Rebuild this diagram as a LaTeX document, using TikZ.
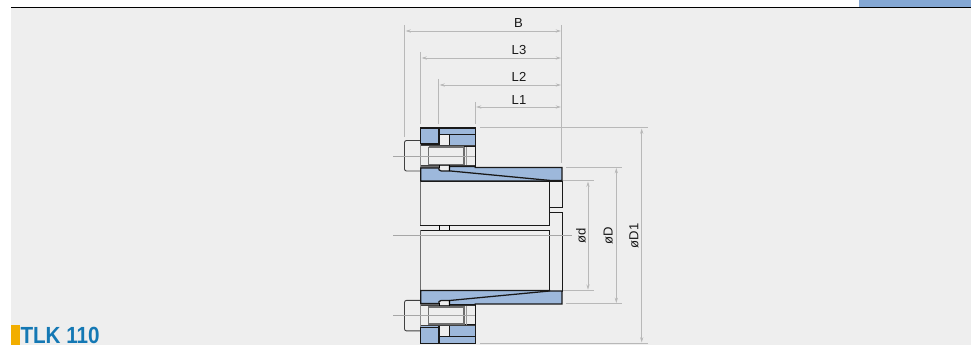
\documentclass[tikz,border=0pt]{standalone}
\usepackage{fontspec}
\setmainfont{Liberation Sans}
\usetikzlibrary{arrows.meta}
\definecolor{pagebg}{HTML}{EEEEEE}
\definecolor{partblue}{HTML}{9DB8DB}
\definecolor{barblue}{HTML}{84A7D3}
\definecolor{dimgray}{HTML}{B8B8B8}
\definecolor{shaftgray}{HTML}{6E6E6E}
\definecolor{titleblue}{HTML}{1478B4}
\definecolor{titleorange}{HTML}{F2AE00}
\tikzset{
  part/.style={draw=black!90,line width=0.95pt,line join=miter},
  bluepart/.style={part,fill=partblue},
  sleeve/.style={draw=black!90,line width=0.7pt},
  thin part/.style={draw=black,line width=0.65pt},
  shaft/.style={draw=shaftgray,line width=1.1pt},
  shaft wall/.style={draw=shaftgray,line width=0.9pt},
  extline/.style={draw=dimgray,line width=0.75pt},
  centre/.style={draw=dimgray!90!black,line width=0.7pt},
  dimline/.style={draw=dimgray,line width=0.7pt,{Stealth[length=4pt,width=2.4pt]}-{Stealth[length=4pt,width=2.4pt]}},
  dimlabel/.style={font=\fontsize{9.8pt}{11pt}\selectfont,text=black!90,inner sep=0pt,anchor=center},
}
% half of the section, in pixel coordinates (mirrored for the lower half)
\newcommand{\halfsection}{%
  % bolt head
  \draw[thin part,rounded corners=1.5pt,draw=black!75] (420.7,140.5) -- (404.5,140.5) -- (404.5,171) -- (420.7,171);
  % ring, upper plates
  \fill[partblue] (420.7,128) rectangle (475.3,146.5);
  \fill[pagebg] (439,134.6) rectangle (449.6,146.5);
  \draw[part] (420.7,128) rectangle (475.3,134.6);
  \draw[bluepart] (420.7,128) rectangle (439,144);
  \draw[part] (439,128) rectangle (475.3,134.6);
  \draw[bluepart] (449.6,134.6) rectangle (475.3,146.3);
  \draw[part] (439,134.6) -- (439,146.5);
  % bolt shaft and socket
  \draw[shaft wall,draw=shaftgray!80] (420.7,144) -- (420.7,168);
  \draw[part,draw=black!75] (420.7,145.8) -- (475.3,145.8);
  \fill[shaftgray] (420.7,165) rectangle (439,168);
  \draw[part,draw=black!75] (420.7,165.6) -- (475.3,165.6);
  \draw[shaft wall] (428.7,146.8) -- (428.7,165);
  \draw[shaft] (428.7,147.2) -- (464,147.2);
  \draw[shaft] (428.7,164.4) -- (464,164.4);
  \draw[shaft wall] (464,146.8) -- (464,165);
  \draw[shaft wall,draw=shaftgray!70] (466.6,146.8) -- (466.6,165);
  \draw[part] (475.3,128) -- (475.3,167.5);
  % hub with the wedge
  \draw[bluepart] (420.7,168) -- (439,168) -- (439,169.8) -- (441,170.9) -- (449.6,170.9)
     -- (449.6,166.6) -- (475.3,166.6) -- (475.3,167.5) -- (562,167.5) -- (562,180.5)
     -- (549.5,180.5) -- (549.5,181) -- (420.7,181) -- cycle;
  \draw[part] (449.6,170.9) -- (549.5,180.4);
  \draw[thin part] (439,165.4) -- (439,168);
  \draw[thin part] (449.6,165.4) -- (449.6,170.9);
}
\begin{document}
\begin{tikzpicture}[x=0.75pt,y=-0.75pt]
\useasboundingbox (0,0) rectangle (971,345);
% page
\fill[white] (0,0) rectangle (971,345);
\fill[pagebg] (11,8) rectangle (971,345);
\fill[barblue] (859,0) rectangle (971,7);
\draw[black,line width=0.8pt] (11,7.6) -- (971,7.6);
% title
\fill[titleorange] (11,325) rectangle (20,345);
\node[anchor=base west,inner sep=0pt,outer sep=0pt,text=titleblue,font=\bfseries\fontsize{17.5pt}{19pt}\selectfont,xscale=0.885,transform shape] (title) at (20.5,343.4) {TLK 110};
% extension lines
\draw[extline] (404.7,25) -- (404.7,137);
\draw[extline] (420.7,52) -- (420.7,124);
\draw[extline] (438.7,79) -- (438.7,124);
\draw[extline] (475.3,102) -- (475.3,124);
\draw[extline] (561.7,25) -- (561.7,163);
\draw[extline] (480,127.7) -- (647.7,127.7);
\draw[extline] (566,167.3) -- (622,167.3);
\draw[extline] (554,180.7) -- (594,180.7);
\draw[extline] (554,290.5) -- (594,290.5);
\draw[extline] (566,303.7) -- (622,303.7);
\draw[extline] (480,343.3) -- (647.7,343.3);
% sleeve
\draw[sleeve,fill=pagebg] (549.5,181) -- (562,181) -- (562,207.7) -- (549.5,207.7);
\draw[sleeve,fill=pagebg] (549.5,212.3) -- (562,212.3) -- (562,291) -- (549.5,291);
\draw[sleeve,fill=pagebg] (420.7,181) rectangle (549.5,225.2);
\draw[sleeve,fill=pagebg] (420.7,230) rectangle (549.5,290.5);
\draw[sleeve,draw=shaftgray] (420.7,181) -- (420.7,225.2) (420.7,230) -- (420.7,290.5);
\draw[thin part] (439,225.2) -- (439,230) (449.6,225.2) -- (449.6,230);
% sections
\halfsection
\begin{scope}[shift={(0,471.4)},yscale=-1]
\halfsection
\end{scope}
% centre lines
\draw[centre] (393,156) -- (475,156);
\draw[centre] (393,235.7) -- (572,235.7);
\draw[centre] (393,315.4) -- (475,315.4);
% dimension lines
\coordinate (bl) at (405.5,31); \coordinate (br) at (561,31);
\coordinate (l3l) at (421.5,58); \coordinate (l3r) at (561,58);
\coordinate (l2l) at (439.5,85); \coordinate (l2r) at (561,85);
\coordinate (l1l) at (476,107); \coordinate (l1r) at (561,107);
\coordinate (dt) at (588,181.5); \coordinate (db) at (588,289.7);
\coordinate (Dt) at (616.3,168); \coordinate (Db) at (616.3,303);
\coordinate (Ot) at (641.7,128.5); \coordinate (Ob) at (641.7,342.5);
\draw[dimline] (bl) -- (br);
\draw[dimline] (l3l) -- (l3r);
\draw[dimline] (l2l) -- (l2r);
\draw[dimline] (l1l) -- (l1r);
\draw[dimline] (dt) -- (db);
\draw[dimline] (Dt) -- (Db);
\draw[dimline] (Ot) -- (Ob);
% labels
\node[dimlabel] (lb) at (518.5,23) {B};
\node[dimlabel] (ll3) at (519,50) {L3};
\node[dimlabel] (ll2) at (519,77) {L2};
\node[dimlabel] (ll1) at (519,100) {L1};
\node[dimlabel,rotate=90] (ld) at (581,236) {ød};
\node[dimlabel,rotate=90] (lD) at (608.3,236) {øD};
\node[dimlabel,rotate=90] (lD1) at (634,235.7) {øD1};
\end{tikzpicture}
\end{document}
